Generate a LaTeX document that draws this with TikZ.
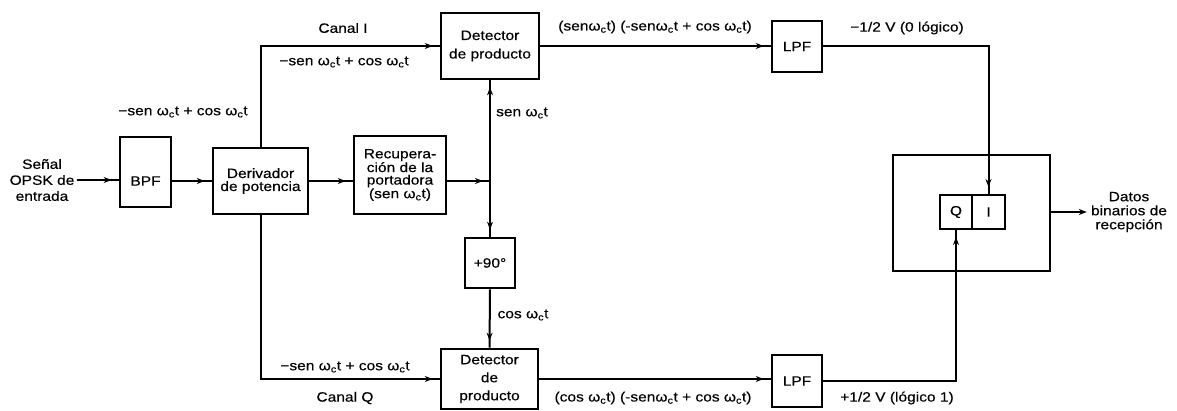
\documentclass[tikz,border=0pt]{standalone}
\usepackage{fontspec}
\setmainfont{Liberation Sans}[FakeStretch=1.15,FakeBold=0.4]
\usetikzlibrary{arrows.meta,decorations.markings}
\newcommand\wct{ω\textsubscript{c}t}
\tikzset{
  box/.style={draw, line width=2.6pt, align=center, inner sep=0pt, font=\fontsize{13.5}{13}\selectfont},
  lbl/.style={inner sep=0pt, font=\fontsize{13.5}{15}\selectfont, align=center},
  wire/.style={line width=2pt},
  arr/.style={wire, postaction=decorate,
    decoration={markings, mark=at position -7pt with {\arrow{Stealth[length=8pt,width=6pt]}}}},
}
\begin{document}
\begin{tikzpicture}[x=1pt,y=-1pt]
\useasboundingbox (0,0) rectangle (1177,411);
% boxes
\node[box, minimum width=51pt, minimum height=70pt] (bpf) at (145.5,172) {\raisebox{-9pt}[\height][\depth]{BPF}};
\node[box, minimum width=95pt, minimum height=66pt, font=\fontsize{13.5}{13}\selectfont] (der) at (260.5,181) {Derivador\\de potencia};
\node[box, minimum width=92pt, minimum height=78pt, font=\fontsize{13.5}{12.5}\selectfont] (rec) at (400,175) {Recupera-\\ción de la\\portadora\\(sen \wct)};
\node[box, minimum width=98pt, minimum height=66pt, font=\fontsize{13.5}{18.5}\selectfont] (dtop) at (490,46) {Detector\\de producto};
\node[box, minimum width=50pt, minimum height=51pt] (ltop) at (797,46.5) {LPF};
\node[box, minimum width=50pt, minimum height=50pt] (ph) at (490,263) {+90°};
\node[box, minimum width=97pt, minimum height=60pt, font=\fontsize{13.5}{18}\selectfont] (dbot) at (489.5,379) {Detector\\de\\producto};
\node[box, minimum width=50pt, minimum height=52pt] (lbot) at (797,381) {LPF};
\node[box, minimum width=157pt, minimum height=116pt] (dec) at (971.5,213) {};
\node[box, line width=2pt, minimum width=32pt, minimum height=34pt] (Q) at (956,212) {Q};
\node[box, line width=2pt, minimum width=33pt, minimum height=34pt] (I) at (988.5,212) {I};
% texts
\node[lbl, font=\fontsize{13.5}{16}\selectfont, inner xsep=2pt] (in) at (42,180) {Señal\\OPSK de\\entrada};
\node[lbl, font=\fontsize{13.5}{14}\selectfont, inner xsep=4pt] (datos) at (1129,212) {Datos\\binarios de\\recepción};
\node[lbl] (cI) at (343,28) {Canal I};
\node[lbl] (sI) at (344,62) {−sen \wct{} + cos \wct};
\node[lbl] (sL) at (183,112) {−sen \wct{} + cos \wct};
\node[lbl] (sn) at (522,113) {sen \wct};
\node[lbl] (pI) at (655,27) {(sen\wct) (-sen\wct{} + cos \wct)};
\node[lbl] (v0) at (907,28) {−1/2 V (0 lógico)};
\node[lbl] (cs) at (523,315) {cos \wct};
\node[lbl] (sQ) at (345,367) {−sen \wct{} + cos \wct};
\node[lbl] (cQ) at (345,398) {Canal Q};
\node[lbl] (pQ) at (653,398) {(cos \wct) (-sen\wct{} + cos \wct)};
\node[lbl] (v1) at (897,398) {+1/2 V (lógico 1)};
% connectors
\coordinate (J) at (dtop.south |- der.east);
\draw[arr] (in.east) -- (in.east -| bpf.west);
\draw[arr] (bpf.east |- der.west) -- (der.west);
\draw[arr] (der.east) -- (der.east -| rec.west);
\draw[arr] (rec.east |- J) -- (J);
\draw[arr] (J) -- (dtop.south);
\draw[arr] (J) -- (ph.north);
\draw[arr] (ph.south) -- (dbot.north);
\draw[arr] (der.north) |- (dtop.west);
\draw[arr] (der.south) |- (dbot.west);
\draw[arr] (dtop.east) -- (dtop.east -| ltop.west);
\draw[arr] (dbot.east) -- (dbot.east -| lbot.west);
\draw[arr] (ltop.east) -| (I.north);
\draw[arr] (lbot.east) -| (Q.south);
\draw[wire, -{Stealth[length=8pt,width=6pt]}] (dec.east |- Q.east) -- (datos.west |- Q.east);
\end{tikzpicture}
\end{document}
